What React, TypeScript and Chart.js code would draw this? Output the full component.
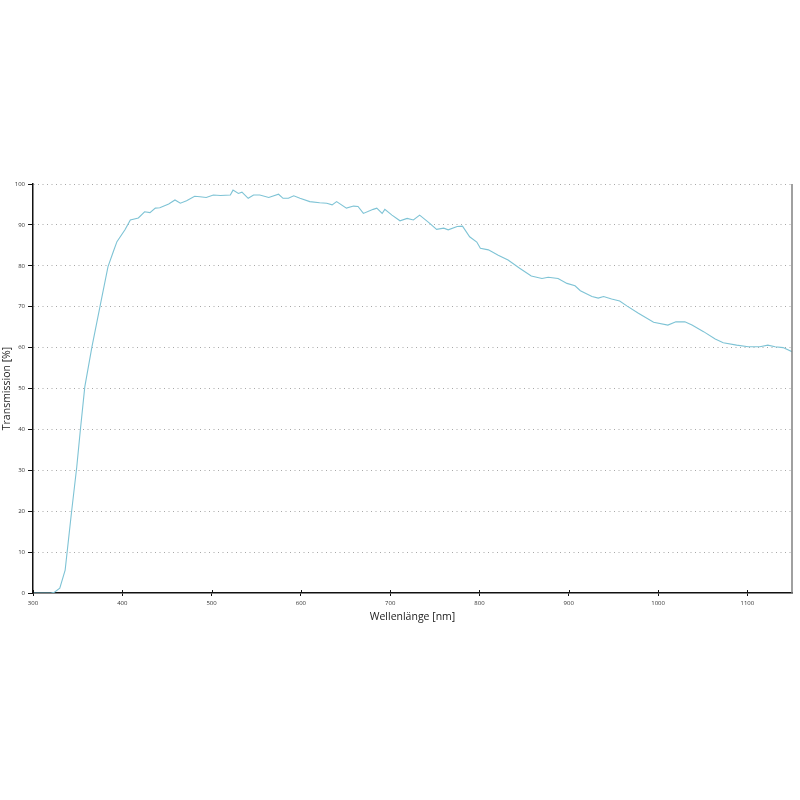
import { useEffect, useRef } from 'react'
import { Chart, registerables } from 'chart.js'

Chart.register(...registerables)

// wavelength [nm] and transmission [%]
const wavelengths = [
  300, 310, 320, 324, 330, 336, 343, 349, 353, 358, 366, 375, 384, 390, 394, 403, 409, 418, 425, 431,
  437, 442, 452, 459, 465, 472, 481, 487, 494, 502, 510, 521, 524, 530, 534, 541, 547, 554, 564, 575,
  580, 586, 592, 599, 610, 621, 629, 635, 640, 651, 659, 664, 670, 681, 685, 691, 694, 702, 711, 719,
  726, 733, 743, 752, 760, 765, 775, 781, 789, 797, 801, 810, 821, 832, 845, 858, 870, 877, 888, 898,
  907, 913, 926, 933, 939, 948, 957, 965, 978, 995, 1011, 1020, 1030, 1038, 1051, 1064, 1073, 1088,
  1101, 1114, 1123, 1131, 1140, 1150,
]
const transmission = [
  0, 0, 0, 0.2, 1.2, 5.6, 19.5, 30.8, 39.8, 50.4, 60.2, 70, 79.8, 83.5, 85.9, 88.8, 91.2, 91.7, 93.2, 93,
  94.1, 94.2, 95.1, 96.1, 95.3, 95.9, 97, 96.9, 96.7, 97.3, 97.2, 97.3, 98.5, 97.7, 98, 96.5, 97.3, 97.3, 96.7, 97.5,
  96.5, 96.5, 97.1, 96.5, 95.7, 95.4, 95.3, 94.9, 95.7, 94.1, 94.6, 94.5, 92.8, 93.8, 94.1, 92.8, 93.8, 92.4, 91, 91.6,
  91.2, 92.4, 90.6, 88.9, 89.2, 88.8, 89.6, 89.7, 87.1, 85.8, 84.3, 83.9, 82.6, 81.4, 79.4, 77.5, 76.9, 77.2, 76.9, 75.7,
  75.1, 73.9, 72.5, 72.1, 72.5, 71.9, 71.4, 70.2, 68.4, 66.2, 65.5, 66.3, 66.3, 65.5, 63.9, 62.1, 61.2, 60.6,
  60.2, 60.2, 60.6, 60.2, 60, 59,
]

const xTitle = 'Wellenlänge [nm]'
const yTitle = 'Transmission [%]'

// small ticks that cross the x axis upwards, plus the grey right frame line
const frameMarks = {
  id: 'frameMarks',
  afterDraw(chart: Chart) {
    const { ctx, chartArea, scales } = chart
    const x = scales.x
    ctx.save()
    ctx.strokeStyle = '#111'
    ctx.lineWidth = 1
    x.ticks.forEach((t) => {
      const px = Math.round(x.getPixelForValue(t.value)) + 0.5
      ctx.beginPath()
      ctx.moveTo(px, chartArea.bottom)
      ctx.lineTo(px, chartArea.bottom - 3)
      ctx.stroke()
    })
    ctx.strokeStyle = '#808080'
    ctx.lineWidth = 1.5
    ctx.beginPath()
    ctx.moveTo(chartArea.right, chartArea.top)
    ctx.lineTo(chartArea.right, chartArea.bottom)
    ctx.stroke()
    ctx.restore()
  },
}

export default function App() {
  const canvasRef = useRef<HTMLCanvasElement>(null)

  useEffect(() => {
    if (!canvasRef.current) return
    const chart = new Chart(canvasRef.current, {
      type: 'line',
      data: {
        datasets: [{
          data: wavelengths.map((w, i) => ({ x: w, y: transmission[i] })),
          borderColor: '#7ec3d5',
          borderWidth: 1.1,
          pointRadius: 0,
          tension: 0,
          fill: false,
        }],
      },
      options: {
        responsive: true,
        maintainAspectRatio: false,
        animation: false,
        layout: { padding: { left: 0, right: 8, top: 184, bottom: 177 } },
        plugins: { legend: { display: false }, tooltip: { enabled: false } },
        scales: {
          x: {
            type: 'linear',
            min: 300,
            max: 1150,
            afterFit: (s: any) => { s.height = 30 },
            ticks: {
              stepSize: 100,
              includeBounds: false,
              padding: 4,
              color: '#333',
              font: { family: 'Open Sans', size: 6 },
              maxRotation: 0,
              callback: (v: any) => String(v),
            },
            grid: { drawOnChartArea: false, drawTicks: true, tickLength: 3, tickColor: '#111', tickWidth: 1 },
            border: { display: true, color: '#111', width: 1.5 },
            title: {
              display: true,
              text: xTitle,
              color: '#222',
              font: { family: 'Open Sans', size: 10.5 },
              padding: { top: 0, bottom: 0 },
            },
          },
          y: {
            min: 0,
            max: 100,
            afterFit: (s: any) => { s.width = 33 },
            ticks: {
              stepSize: 10,
              padding: 3,
              color: '#333',
              font: { family: 'Open Sans', size: 6 },
            },
            grid: {
              color: (c: any) => (c.tick && c.tick.value === 0 ? 'rgba(0,0,0,0)' : '#a8a8a8'),
              lineWidth: 1,
              drawTicks: true,
              tickLength: 5,
              tickColor: '#111',
              tickWidth: 1,
              tickBorderDash: [],
            },
            border: { display: true, color: '#111', width: 1.5, dash: [1, 3.5] },
            title: {
              display: true,
              text: yTitle,
              color: '#222',
              font: { family: 'Open Sans', size: 10.5 },
              padding: { top: 1, bottom: 0 },
            },
          },
        },
      },
      plugins: [frameMarks],
    })
    return () => { chart.destroy() }
  }, [])

  return (
    <div style={{ position: 'fixed', left: 0, top: 0, width: 800, height: 800, background: '#fff' }}>
      <canvas ref={canvasRef} />
    </div>
  )
}
